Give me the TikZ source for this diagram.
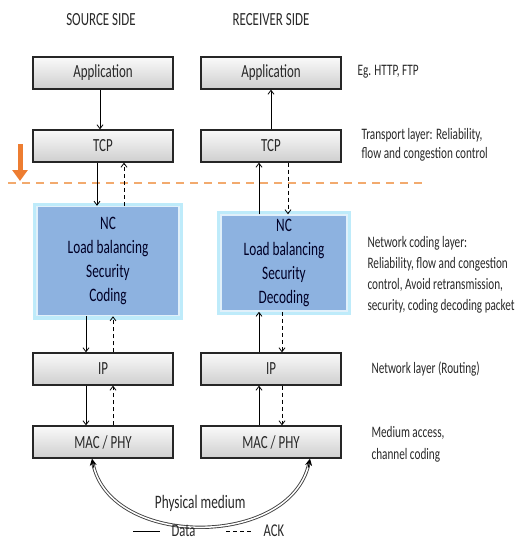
\documentclass[tikz,border=0pt]{standalone}
\usepackage{fontspec}
\setmainfont{Carlito}[FakeStretch=0.7]
\usetikzlibrary{%
  calc,%
  arrows,%
  arrows.meta%
}
\definecolor{ncblue}{RGB}{141,178,224}
\definecolor{ncglow}{RGB}{190,235,250}
\definecolor{ncedge}{RGB}{225,240,250}
\definecolor{layerorange}{RGB}{237,125,49}
\definecolor{lineorange}{RGB}{242,170,110}
\definecolor{boxtext}{RGB}{40,40,40}

\begin{document}
\begin{tikzpicture}[x=1pt,y=-1pt,
  layer/.style={draw=black!85,line width=1.2pt,top color=gray!4,bottom color=gray!38,
    minimum width=140pt,minimum height=32pt,inner sep=0pt,text=boxtext,
    font=\fontsize{18.5}{20}\selectfont},
  ncbox/.style={preaction={draw=ncglow,line width=8pt},draw=ncedge,line width=1.5pt,
    fill=ncblue,align=center,inner sep=0pt,text=black!75!blue!60!black,
    font=\fontsize{19}{24}\selectfont},
  note/.style={anchor=west,align=left,text=boxtext,font=\fontsize{16}{20}\selectfont},
  side/.style={text=boxtext,font=\fontsize{18.5}{20}\selectfont},
  data/.style={line width=0.8pt,-{Straight Barb[length=4pt,width=6pt]}},
  ack/.style={data,dash pattern=on 4pt off 3pt}
]
\useasboundingbox (0,0) rectangle (526,542);

% headings
\node[side] (srchead) at (101,20) {SOURCE SIDE};
\node[side] (rcvhead) at (271,20) {RECEIVER SIDE};

% source stack
\node[layer] (srcapp) at (103,73) {Application};
\node[layer] (srctcp) at (103,146) {TCP};
\node[ncbox,minimum width=142pt,minimum height=109pt] (srcnc) at (108,261)
  {NC\\Load balancing\\Security\\Coding};
\node[layer] (srcip) at (103,369) {IP};
\node[layer] (srcmac) at (103,442) {MAC / PHY};

% receiver stack
\node[layer] (rcvapp) at (271,73) {Application};
\node[layer] (rcvtcp) at (271,146) {TCP};
\node[ncbox,minimum width=126pt,minimum height=96pt] (rcvnc) at (284,263)
  {NC\\Load balancing\\Security\\Decoding};
\node[layer] (rcvip) at (271,369) {IP};
\node[layer] (rcvmac) at (271,442) {MAC / PHY};

% notes
\node[note] (noteapp) at (354,72) {Eg. HTTP, FTP};
\node[note,font=\fontsize{16}{19}\selectfont] (notetcp) at (358,145)
  {Transport layer: Reliability,\\flow and congestion control};
\node[note,font=\fontsize{16}{21}\selectfont] (notenc) at (364,275)
  {Network coding layer:\\Reliability, flow and congestion\\control, Avoid retransmission,\\security, coding decoding packet};
\node[note] (noteip) at (368,369) {Network layer (Routing)};
\node[note,font=\fontsize{16}{22}\selectfont] (notemac) at (368,444)
  {Medium access,\\channel coding};

% layer line
\coordinate (lstart) at (8,183);
\coordinate (lend) at (422,183);
\draw[lineorange,line width=2pt,dash pattern=on 8pt off 6pt] (lstart) -- (lend);
\coordinate (otop) at (20,144);
\coordinate (otip) at (20,181);
\draw[layerorange,line width=5pt,-{Triangle[length=11pt,width=15pt]}] (otop) -- (otip);

% data and ack, source side
\draw[data] ([xshift=-3pt]srcapp.south) -- ([xshift=-3pt]srctcp.north);
\draw[data] ([xshift=-6pt]srctcp.south) -- ([xshift=-6pt]srctcp.south |- srcnc.north);
\draw[ack] ([xshift=21pt]srctcp.south |- srcnc.north) -- ([xshift=21pt]srctcp.south);
\draw[data] ([xshift=-17pt]srcip.north |- srcnc.south) -- ([xshift=-17pt]srcip.north);
\draw[ack] ([xshift=10pt]srcip.north) -- ([xshift=10pt]srcip.north |- srcnc.south);
\draw[data] ([xshift=-17pt]srcip.south) -- ([xshift=-17pt]srcmac.north);
\draw[ack] ([xshift=10pt]srcmac.north) -- ([xshift=10pt]srcip.south);

% data and ack, receiver side
\draw[data] (rcvtcp.north) -- (rcvapp.south);
\draw[data] ([xshift=-12pt]rcvtcp.south |- rcvnc.north) -- ([xshift=-12pt]rcvtcp.south);
\draw[ack] ([xshift=17pt]rcvtcp.south) -- ([xshift=17pt]rcvtcp.south |- rcvnc.north);
\draw[data] ([xshift=-12pt]rcvip.north) -- ([xshift=-12pt]rcvip.north |- rcvnc.south);
\draw[ack] ([xshift=11pt]rcvip.north |- rcvnc.south) -- ([xshift=11pt]rcvip.north);
\draw[data] ([xshift=-12pt]rcvmac.north) -- ([xshift=-12pt]rcvip.south);
\draw[ack] ([xshift=11pt]rcvip.south) -- ([xshift=11pt]rcvmac.north);

% physical medium
\coordinate (medsrc) at ([xshift=-11pt]srcmac.south);
\coordinate (medrcv) at ([xshift=39pt]rcvmac.south);
\draw[gray!50!black,line width=0.9pt,double=white,double distance=1.5pt,shorten <=5pt,shorten >=5pt]
  (medsrc) .. controls +(18,90) and +(-20,90) .. (medrcv)
  node[pos=0.5,above=11pt,text=boxtext,font=\fontsize{19}{20}\selectfont] (medium) {Physical medium};
\draw[-{Stealth[length=7pt,width=7pt]},line width=1pt] ($(medsrc)+(1.6,9)$) -- (medsrc);
\draw[-{Stealth[length=7pt,width=7pt]},line width=1pt] ($(medrcv)+(-1.8,9)$) -- (medrcv);

% legend
\coordinate (dataa) at (133,531);
\coordinate (datab) at (160,531);
\draw[line width=0.8pt] (dataa) -- (datab) node[right=8pt,text=boxtext,font=\fontsize{18}{19}\selectfont] (datalbl) {Data};
\coordinate (acka) at (226,531);
\coordinate (ackb) at (253,531);
\draw[line width=0.8pt,dash pattern=on 4pt off 3pt] (acka) -- (ackb) node[right=7pt,text=boxtext,font=\fontsize{18}{19}\selectfont] (acklbl) {ACK};
\end{tikzpicture}
\end{document}
